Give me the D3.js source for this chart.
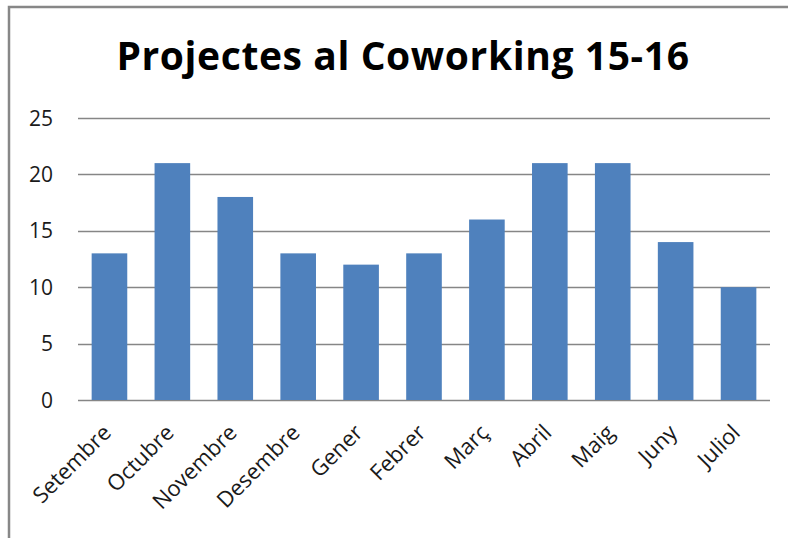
<!DOCTYPE html>
<html><head><meta charset="utf-8">
<script src="https://cdn.jsdelivr.net/npm/d3@7"></script>
<style>body{margin:0;background:#fff}svg{display:block}</style>
</head><body><svg id="c" width="788" height="538"></svg>
<script>
const categories = ["Setembre","Octubre","Novembre","Desembre","Gener","Febrer","Març","Abril","Maig","Juny","Juliol"];
const values = [13,21,18,13,12,13,16,21,21,14,10];
const yTicks = [0,5,10,15,20,25];
const title = "Projectes al Coworking 15-16";

const svg = d3.select("#c");
const font = "'Open Sans', sans-serif";
// border (top + left visible)
svg.append("path").attr("d","M9,540 V7 H790").attr("fill","none").attr("stroke","#878787").attr("stroke-width",2.5);

const x = d3.scaleBand().domain(categories).range([78,770]).paddingInner(0.434).paddingOuter(0.217);
const y = d3.scaleLinear().domain([0,25]).range([400,118]);

svg.append("g").selectAll("line").data(yTicks).join("line")
  .attr("x1",78).attr("x2",770).attr("y1",d=>Math.round(y(d))+0.5).attr("y2",d=>Math.round(y(d))+0.5)
  .attr("stroke","#868686").attr("stroke-width",1.3);

svg.append("g").selectAll("text").data(yTicks).join("text")
  .attr("x",53).attr("y",d=>y(d)).attr("dy","0.36em").attr("text-anchor","end")
  .attr("font-family",font).attr("font-size",21).attr("fill","#1a1a1a").text(d=>d);

svg.append("g").selectAll("rect").data(values).join("rect")
  .attr("x",(d,i)=>x(categories[i])).attr("width",x.bandwidth())
  .attr("y",d=>y(d)).attr("height",d=>y(0)-y(d)).attr("fill","#4F81BD");

svg.append("g").selectAll("text").data(categories).join("text")
  .attr("transform",d=>`translate(${x(d)+x.bandwidth()/2+3},${434}) rotate(-45)`)
  .attr("text-anchor","end").attr("font-family",font).attr("font-size",22).attr("fill","#1a1a1a").text(d=>d);

svg.append("text").attr("x",403).attr("y",70).attr("text-anchor","middle")
  .attr("font-family",font).attr("font-weight","bold").attr("font-size",39).attr("letter-spacing",0.6).attr("fill","#000").text(title);
</script></body></html>
